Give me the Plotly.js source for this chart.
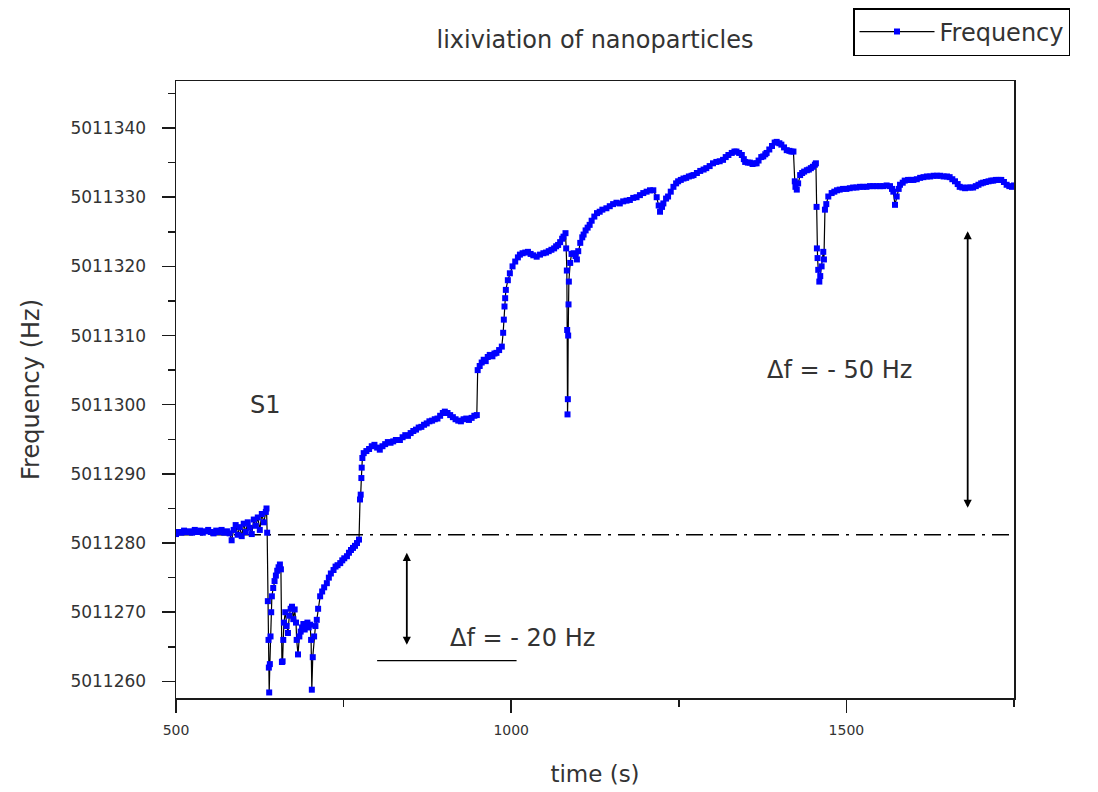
<!DOCTYPE html>
<html>
<head>
<meta charset="utf-8">
<script src="https://cdn.plot.ly/plotly-3.0.1.min.js"></script>
<style>html,body{margin:0;padding:0;background:#fff;}#chart{width:1098px;height:792px;}</style>
</head>
<body>
<div id="chart"></div>
<script>
// time (s)
var timeS = [
500,504,508,512,516,520,524,528,532,536,
540,544,548,552,556,560,564,568,572,576,
580,583,586,589,592,595,598,601,604,607,
610,613,616,619,622,625,628,631,634,635,
636,637,638,638.5,639,640,641,642,643,645,
647,649,651,653,655,656.5,658,659,660,661,
663,665,667,669,671,673,675,677,679,680,
682,684,686,688,690,692,694,696,698,700,
701.5,702.6,704,706,708,710,712,715,718,721,
725,728,731,735,738,741,745,748,751,755,
758,761,764,767,770,773,774.5,775.5,776.5,777,
778,780,784,788,792,796,800,804,808,812,
816,820,824,828,834,838,842,846,850,854,
858,862,866,870,874,878,882,886,890,894,
898,901,905,909,913,917,921,925,929,933,
937,941,945,948.7,950,953,956,959,962,965,
968,972,975,978,982,986,988,989,990,991,
992,995,998,1002,1006,1010,1013,1017,1021,1025,
1029,1033,1038,1043,1048,1052,1056,1060,1064,1067,
1070,1073,1076,1078,1081,1082,1083,1083.5,1084,1084.5,
1085,1085.5,1086,1088,1090,1093,1096,1098,1100,1103,
1106,1108,1111,1114,1117,1120,1124,1128,1132,1136,
1142,1147,1152,1157,1162,1167,1172,1177,1182,1187,
1192,1197,1202,1207,1212,1217,1220,1222,1225,1227,
1231,1234,1238,1242,1246,1249,1253,1257,1261,1265,
1269,1272,1277,1282,1287,1291,1296,1301,1306,1311,
1316,1320,1324,1329,1333,1336,1340,1344,1347,1349,
1353,1356,1360,1363,1366,1369,1373,1376,1379,1381,
1385,1389,1393,1396,1400,1403,1407,1411,1415,1418,
1421,1423,1424,1426,1428,1431,1434,1437,1441,1444,
1447,1450,1453,1454.5,1455.5,1456,1457,1458,1459.6,1461,
1463,1465.5,1466.5,1468,1470,1473,1478,1482,1486,1490,
1495,1500,1505,1510,1515,1520,1525,1530,1535,1540,
1545,1550,1555,1560,1565,1568,1570,1572.5,1575,1578,
1580,1584,1587,1592,1596,1600,1605,1610,1615,1620,
1625,1630,1635,1640,1645,1650,1654,1658,1662,1666,
1669,1673,1677,1681,1685,1689,1693,1697,1701,1704,
1708,1712,1716,1719,1723,1727,1731,1735,1739,1743,
1747,1750
];
// frequency (Hz)
var freqHz = [
5011281.3,5011281.6,5011281.5,5011281.8,5011281.6,5011281.7,5011281.5,5011281.9,5011281.6,5011281.8,
5011281.5,5011281.7,5011281.9,5011281.6,5011281.4,5011281.8,5011281.6,5011281.9,5011281.5,5011281.7,
5011281.4,5011280.4,5011281.9,5011282.6,5011281.2,5011282.3,5011281.0,5011282.8,5011281.6,5011283.0,
5011282.2,5011281.3,5011283.4,5011282.5,5011283.7,5011281.9,5011284.2,5011283.0,5011284.5,5011285.0,
5011281.5,5011271.6,5011266.0,5011262.0,5011258.4,5011262.5,5011266.5,5011270.0,5011272.3,5011273.5,
5011274.5,5011275.3,5011276.0,5011276.5,5011276.9,5011276.2,5011262.8,5011262.9,5011266.0,5011268.5,
5011270.0,5011268.0,5011267.0,5011269.5,5011270.5,5011270.8,5011269.0,5011270.4,5011268.5,5011266.0,
5011263.9,5011266.5,5011267.2,5011267.8,5011268.3,5011267.5,5011268.0,5011268.5,5011267.8,5011268.2,
5011266.0,5011258.8,5011263.5,5011266.5,5011268.0,5011268.9,5011270.5,5011272.3,5011273.0,5011273.6,
5011274.2,5011275.0,5011275.6,5011276.1,5011276.6,5011276.8,5011277.1,5011277.5,5011277.8,5011278.1,
5011278.6,5011279.0,5011279.3,5011279.6,5011280.0,5011280.5,5011286.3,5011287.0,5011289.4,5011290.9,
5011292.3,5011293.0,5011293.3,5011293.6,5011294.0,5011294.2,5011293.8,5011293.5,5011294.0,5011294.3,
5011294.6,5011294.5,5011294.7,5011294.9,5011294.9,5011295.3,5011295.6,5011295.5,5011295.9,5011296.2,
5011296.4,5011296.7,5011296.8,5011297.1,5011297.3,5011297.6,5011297.7,5011297.9,5011298.0,5011298.4,
5011298.8,5011299.0,5011298.8,5011298.5,5011298.2,5011297.9,5011297.7,5011297.6,5011297.9,5011298.0,
5011297.8,5011298.1,5011298.4,5011298.5,5011305.0,5011305.6,5011306.1,5011306.5,5011306.3,5011306.9,
5011307.2,5011307.0,5011307.4,5011307.5,5011307.9,5011308.4,5011310.4,5011312.3,5011314.2,5011315.4,
5011316.6,5011318.0,5011319.0,5011320.0,5011320.7,5011321.3,5011321.7,5011321.9,5011322.0,5011322.1,
5011321.8,5011321.6,5011321.4,5011321.7,5011321.9,5011322.0,5011322.2,5011322.4,5011322.6,5011322.9,
5011323.1,5011323.5,5011324.0,5011324.3,5011324.8,5011322.6,5011319.4,5011310.8,5011298.6,5011300.8,
5011310.0,5011314.5,5011317.8,5011320.5,5011321.8,5011321.9,5011321.5,5011321.0,5011322.2,5011323.4,
5011324.2,5011324.6,5011325.2,5011325.6,5011326.0,5011326.6,5011327.2,5011327.7,5011327.9,5011328.2,
5011328.4,5011328.7,5011329.0,5011329.2,5011329.1,5011329.4,5011329.5,5011329.6,5011329.9,5011330.0,
5011330.3,5011330.6,5011330.8,5011331.0,5011331.0,5011330.0,5011328.8,5011327.9,5011328.6,5011329.1,
5011329.8,5011330.1,5011330.8,5011331.5,5011332.0,5011332.3,5011332.5,5011332.7,5011332.8,5011333.0,
5011333.1,5011333.2,5011333.5,5011333.8,5011334.0,5011334.2,5011334.5,5011334.9,5011335.1,5011335.2,
5011335.4,5011335.8,5011336.1,5011336.4,5011336.6,5011336.6,5011336.4,5011336.1,5011335.5,5011335.1,
5011335.0,5011335.0,5011334.8,5011334.9,5011334.9,5011335.3,5011335.8,5011335.9,5011336.2,5011336.4,
5011336.9,5011337.4,5011337.9,5011338.0,5011337.8,5011337.6,5011337.2,5011336.8,5011336.7,5011336.6,
5011336.6,5011332.3,5011331.5,5011331.1,5011332.0,5011333.2,5011333.5,5011333.7,5011333.9,5011334.0,
5011334.2,5011334.4,5011334.7,5011334.9,5011328.6,5011322.6,5011321.2,5011319.5,5011317.8,5011318.6,
5011320.0,5011322.1,5011321.0,5011328.2,5011329.0,5011330.1,5011330.6,5011330.8,5011331.0,5011331.1,
5011331.2,5011331.2,5011331.3,5011331.4,5011331.4,5011331.5,5011331.5,5011331.5,5011331.6,5011331.6,
5011331.6,5011331.6,5011331.6,5011331.7,5011331.6,5011331.2,5011330.8,5011328.9,5011330.1,5011331.2,
5011331.8,5011332.1,5011332.4,5011332.5,5011332.5,5011332.5,5011332.6,5011332.8,5011332.9,5011333.0,
5011333.0,5011333.1,5011333.1,5011333.1,5011333.0,5011333.0,5011332.9,5011332.6,5011332.3,5011331.9,
5011331.5,5011331.4,5011331.3,5011331.4,5011331.4,5011331.4,5011331.6,5011331.8,5011332.0,5011332.1,
5011332.2,5011332.3,5011332.4,5011332.4,5011332.5,5011332.5,5011332.5,5011332.2,5011331.8,5011331.6,
5011331.5,5011331.7
];

// reference levels and annotation values
var baselineFreq = 5011281.2;          // dash-dot reference line
var shortLineTime = [800, 1008];       // short solid line span
var shortLineFreq = 5011263.0;
var arrow20 = {time: 844.3, from: 5011278.8, to: 5011265.3};
var arrow50 = {time: 1680.9, from: 5011325.3, to: 5011285.1};
var labels = [
  {text: 'S1', time: 633, freq: 5011300.0},
  {text: '\u0394f = - 20 Hz', time: 1017, freq: 5011266.3},
  {text: '\u0394f = - 50 Hz', time: 1490, freq: 5011305.0}
];
var xRange = [500, 1750];
var yRange = [5011257.6, 5011346.8];

var FONT = 'DejaVu Sans, Arial, sans-serif';
var TXT = '#333333';
var AX = '#1a1a1a';

var trace = {
  x: timeS, y: freqHz, type: 'scatter', mode: 'lines+markers', name: 'Frequency',
  line: {color: '#000000', width: 1.2},
  marker: {color: '#0000ff', symbol: 'square', size: 6, line: {width: 0}}
};

var annotations = labels.map(function (l) {
  return {x: l.time, y: l.freq, xref: 'x', yref: 'y', text: l.text, showarrow: false,
          font: {family: FONT, size: 24, color: TXT}};
});
[arrow20, arrow50].forEach(function (a) {
  annotations.push({x: a.time, y: a.to, ax: a.time, ay: a.from, xref: 'x', yref: 'y',
    axref: 'x', ayref: 'y', text: '', showarrow: true, arrowside: 'end+start',
    arrowhead: 2, arrowsize: 0.9, arrowwidth: 1.8, arrowcolor: '#000', standoff: 0, startstandoff: 0});
});

var layout = {
  width: 1098, height: 792,
  margin: {l: 176, r: 84, t: 81, b: 94, pad: 0, autoexpand: false},
  paper_bgcolor: '#ffffff', plot_bgcolor: '#ffffff',
  font: {family: FONT, color: TXT},
  title: {text: 'lixiviation of nanoparticles', x: 0.5, xref: 'paper', xanchor: 'center',
          y: 1 - 40 / 792, yref: 'container', yanchor: 'middle',
          font: {family: FONT, size: 24, color: TXT}},
  showlegend: true,
  legend: {x: 853 / 1098, y: 1 - 8 / 792, xanchor: 'left', yanchor: 'top', xref: 'container', yref: 'container',
           bordercolor: '#000', borderwidth: 1.5, bgcolor: '#fff',
           font: {family: FONT, size: 24, color: TXT}, itemwidth: 75},
  xaxis: {
    range: xRange, tickmode: 'linear', tick0: 500, dtick: 500,
    ticks: 'outside', ticklen: 13, tickwidth: 1.5, tickcolor: AX,
    minor: {tickmode: 'linear', tick0: 500, dtick: 250, ticks: 'outside', ticklen: 7, tickwidth: 1.5, tickcolor: AX, showgrid: false},
    showline: true, linecolor: AX, linewidth: 1.5, mirror: true,
    showgrid: false, zeroline: false,
    tickfont: {family: FONT, size: 14, color: TXT}, ticklabelstandoff: 6,
    title: {text: 'time (s)', font: {family: FONT, size: 23, color: TXT}, standoff: 28}
  },
  yaxis: {
    range: yRange, tickmode: 'linear', tick0: 5011260, dtick: 10, tickformat: 'd',
    ticks: 'outside', ticklen: 13, tickwidth: 1.5, tickcolor: AX,
    minor: {tickmode: 'linear', tick0: 5011255, dtick: 5, ticks: 'outside', ticklen: 7, tickwidth: 1.5, tickcolor: AX, showgrid: false},
    showline: true, linecolor: AX, linewidth: 1.5, mirror: true,
    showgrid: false, zeroline: false,
    tickfont: {family: FONT, size: 17, color: TXT}, ticklabelstandoff: 12,
    title: {text: 'Frequency (Hz)', font: {family: FONT, size: 24, color: TXT}, standoff: 24}
  },
  shapes: [
    {type: 'line', xref: 'x', yref: 'y', x0: xRange[0], x1: xRange[1], y0: baselineFreq, y1: baselineFreq,
     line: {color: '#000', width: 1.4, dash: '17px,7px,3px,7px'}, layer: 'below'},
    {type: 'line', xref: 'x', yref: 'y', x0: shortLineTime[0], x1: shortLineTime[1], y0: shortLineFreq, y1: shortLineFreq,
     line: {color: '#000', width: 1.4}}
  ],
  annotations: annotations
};

Plotly.newPlot('chart', [trace], layout, {displayModeBar: false, staticPlot: true});
</script>
</body>
</html>
